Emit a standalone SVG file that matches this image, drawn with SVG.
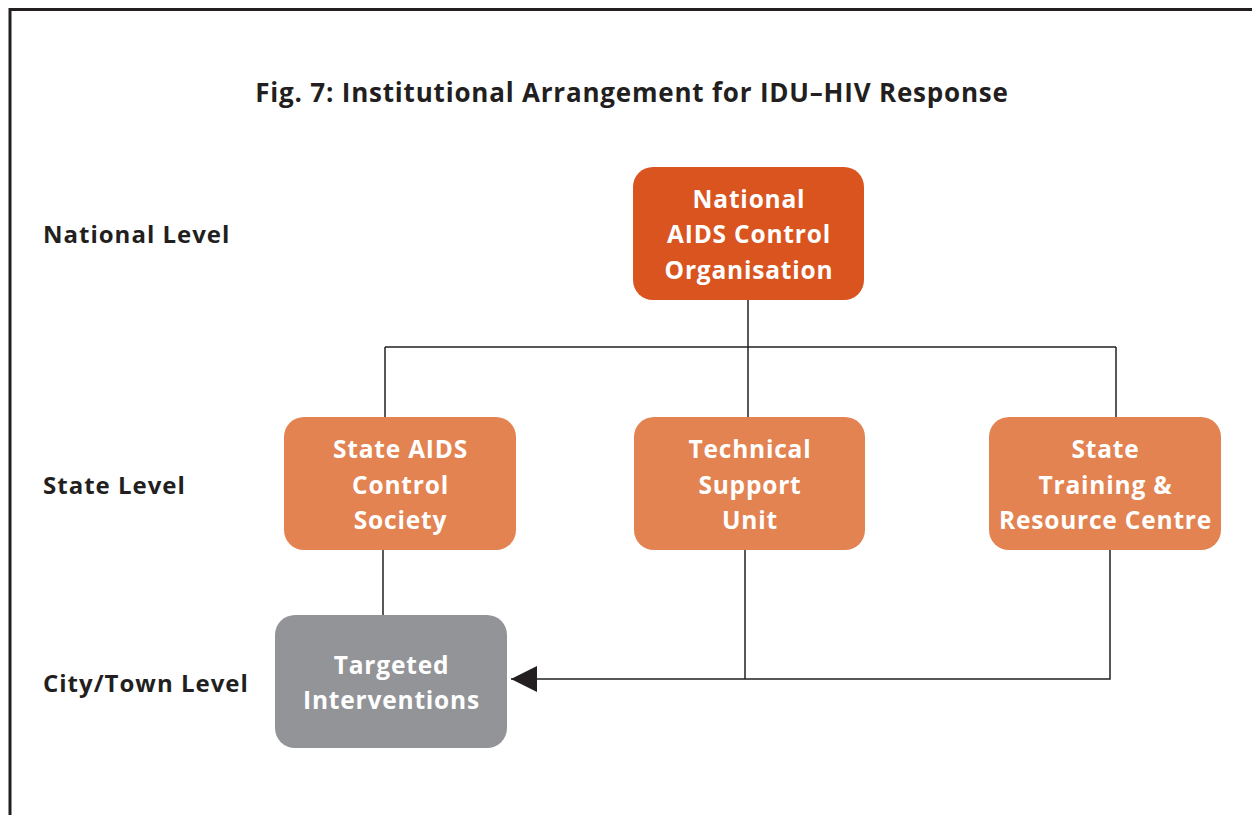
<svg xmlns="http://www.w3.org/2000/svg" width="1252" height="815" viewBox="0 0 1252 815">
<defs>
<style>
.title{font-family:"Open Sans","Noto Sans","Liberation Sans",sans-serif;font-weight:bold;font-size:26px;letter-spacing:0.8px;fill:#231F20}
.lvl{font-family:"Open Sans","Noto Sans","Liberation Sans",sans-serif;font-weight:bold;font-size:24px;letter-spacing:1px;fill:#231F20}
.nt{font-family:"Open Sans","Noto Sans","Liberation Sans",sans-serif;font-weight:bold;font-size:24.5px;letter-spacing:0.8px;fill:#FFFFFF;text-anchor:middle}
.conn{fill:none;stroke:#231F20;stroke-width:1.5}
</style>
<marker id="arr" markerUnits="userSpaceOnUse" markerWidth="28" markerHeight="28" refX="26" refY="13" orient="auto">
<path d="M0,0 L26,13 L0,26 Z" fill="#231F20"/>
</marker>
</defs>
<rect x="0" y="0" width="1252" height="815" fill="#FFFFFF"/>
<path d="M10,815 L10,9.5 L1252,9.5" fill="none" stroke="#231F20" stroke-width="3"/>
<text class="title" x="632" y="102" text-anchor="middle">Fig. 7: Institutional Arrangement for IDU–HIV Response</text>
<text class="lvl" x="43" y="243">National Level</text>
<text class="lvl" x="43" y="494">State Level</text>
<text class="lvl" x="43" y="692">City/Town Level</text>
<g id="connectors">
<path class="conn" d="M748,300 L748,417"/>
<path class="conn" d="M385,347 L1116,347"/>
<path class="conn" d="M385,347 L385,417"/>
<path class="conn" d="M1116,347 L1116,417"/>
<path class="conn" d="M383,550 L383,615"/>
<path class="conn" d="M745,550 L745,679"/>
<path class="conn" d="M1110,550 L1110,679 L511,679" marker-end="url(#arr)"/>
</g>
<g id="naco">
<rect x="633" y="167" width="231" height="133" rx="20" fill="#D9541F"/>
<text class="nt" x="749" y="208">National</text>
<text class="nt" x="749" y="243">AIDS Control</text>
<text class="nt" x="749" y="279">Organisation</text>
</g>
<g id="sacs">
<rect x="284" y="417" width="232" height="133" rx="20" fill="#E38352"/>
<text class="nt" x="400.5" y="458">State AIDS</text>
<text class="nt" x="400.5" y="494">Control</text>
<text class="nt" x="400.5" y="529">Society</text>
</g>
<g id="tsu">
<rect x="634" y="417" width="231" height="133" rx="20" fill="#E38352"/>
<text class="nt" x="750" y="458">Technical</text>
<text class="nt" x="750" y="494">Support</text>
<text class="nt" x="750" y="529">Unit</text>
</g>
<g id="strc">
<rect x="989" y="417" width="232" height="133" rx="20" fill="#E38352"/>
<text class="nt" x="1105.5" y="458">State</text>
<text class="nt" x="1105.5" y="494">Training &amp;</text>
<text class="nt" x="1105.5" y="529">Resource Centre</text>
</g>
<g id="ti">
<rect x="275" y="615" width="232" height="133" rx="20" fill="#939497"/>
<text class="nt" x="391.5" y="674">Targeted</text>
<text class="nt" x="391.5" y="709">Interventions</text>
</g>
</svg>
